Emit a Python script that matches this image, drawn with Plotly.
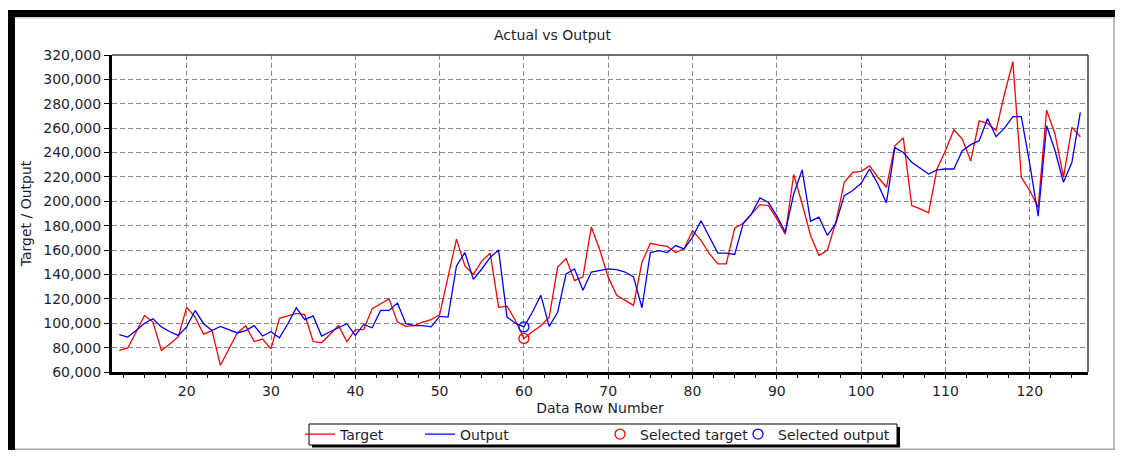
import plotly.graph_objects as go

# ---------------- data ----------------
rows = list(range(12, 127))

target = [
    77700, 79700, 92800, 106400, 101000, 77700, 83000, 89000, 113000, 105000,
    91000, 94000, 65500, 79000, 92000, 98000, 85000, 87000, 79000, 104000,
    106000, 108000, 107000, 85000, 84000, 91000, 98000, 85000, 94500, 95000,
    112000, 116000, 120000, 101000, 97400, 98000, 101000, 103000, 107000, 138000,
    169000, 147000, 140000, 151000, 157500, 113000, 114000, 102000, 87500, 93000,
    98000, 105000, 146000, 153000, 135000, 138000, 179000, 160000, 137800, 123000,
    118700, 114600, 150000, 165600, 164000, 163000, 158000, 161000, 176000, 168000,
    157000, 148700, 148700, 178000, 182000, 189700, 197300, 196500, 185600, 173000,
    222000, 198000, 172000, 155500, 160000, 183000, 215600, 223800, 224600, 229000,
    219700, 211500, 245600, 252000, 196500, 193800, 190500, 226500, 241500, 258700,
    251000, 233000, 266000, 264000, 258000, 288000, 314600, 219700, 208800, 195000,
    274800, 255000, 219700, 260600, 253000,
]

output = [
    90600, 88700, 94000, 100000, 103700, 97000, 93000, 90000, 97000, 110500,
    99600, 94000, 97400, 94700, 92000, 94000, 98000, 89500, 93000, 88000,
    99600, 112700, 103000, 106000, 89500, 93000, 96000, 99600, 90000, 99000,
    96300, 110500, 110500, 116500, 99600, 98000, 98000, 97000, 105600, 105000,
    147000, 158000, 136000, 144500, 154000, 160000, 105000, 100000, 97000, 109000,
    123000, 97400, 109000, 140500, 144500, 127000, 142000, 143500, 144600, 144000,
    142000, 138000, 112700, 158000, 159600, 158000, 163700, 161000, 170600, 184000,
    170600, 157500, 157500, 156400, 181500, 189700, 202800, 199000, 188000, 174700,
    206000, 225700, 183700, 187000, 172000, 182000, 204700, 208800, 214800, 226500,
    214000, 198700, 244000, 240000, 232000, 227000, 222400, 225700, 226500, 226500,
    241500, 246500, 249700, 268000, 253000, 260000, 269500, 269500, 230700, 187800,
    262000, 241500, 215600, 232000, 273000,
]

selected_rows = [60]
selected_target = [target[rows.index(r)] for r in selected_rows]
selected_output = [output[rows.index(r)] for r in selected_rows]

x_tickvals = [20, 30, 40, 50, 60, 70, 80, 90, 100, 110, 120]
y_tickvals = [60000, 80000, 100000, 120000, 140000, 160000, 180000, 200000,
              220000, 240000, 260000, 280000, 300000, 320000]

# ---------------- layout geometry (page pixels; page body has 8px margin) ----------------
OFF = 8
FIG_R, FIG_B = 1115, 450                          # figure right / bottom edge in page px
P_L, P_R, P_T, P_B = 112, 1088, 55, 372          # plot area in page px
W, H = FIG_R - OFF, FIG_B - OFF
ML, MR, MT, MB = P_L - OFF, FIG_R - P_R, P_T - OFF, FIG_B - P_B


def px(xp):
    return (xp - P_L) / (P_R - P_L)


def py(yp):
    return (P_B - yp) / (P_B - P_T)


FONT = "DejaVu Sans"
TXT = "#1e1e32"

fig = go.Figure()
fig.add_trace(go.Scatter(x=rows, y=target, mode="lines", name="Target",
                         line=dict(color="#ff0000", width=1.3), legend="legend"))
fig.add_trace(go.Scatter(x=rows, y=output, mode="lines", name="Output",
                         line=dict(color="#0000ff", width=1.3), legend="legend2"))
fig.add_trace(go.Scatter(x=selected_rows, y=selected_target, mode="markers",
                         name="Selected target", legend="legend3",
                         marker=dict(symbol="circle-open", size=10, color="#ff0000",
                                     line=dict(width=1.3, color="#ff0000"))))
fig.add_trace(go.Scatter(x=selected_rows, y=selected_output, mode="markers",
                         name="Selected output", legend="legend4",
                         marker=dict(symbol="circle-open", size=10, color="#0000ff",
                                     line=dict(width=1.3, color="#0000ff"))))

shapes = []
# outer window frame (the part that lies inside the figure)
shapes.append(dict(type="rect", xref="paper", yref="paper", x0=px(0), x1=px(15),
                   y0=py(10), y1=py(460), fillcolor="black", line=dict(width=0)))
shapes.append(dict(type="rect", xref="paper", yref="paper", x0=px(7), x1=px(1130),
                   y0=py(10), y1=py(17), fillcolor="black", line=dict(width=0)))
shapes.append(dict(type="line", xref="paper", yref="paper", x0=px(1114), x1=px(1114),
                   y0=py(17), y1=py(452), line=dict(color="#a8a8a8", width=1.5)))
shapes.append(dict(type="line", xref="paper", yref="paper", x0=px(15), x1=px(1121),
                   y0=py(449.2), y1=py(449.2), line=dict(color="#a8a8a8", width=1.5)))
shapes.append(dict(type="line", xref="paper", yref="paper", x0=px(15), x1=px(1120),
                   y0=py(17.8), y1=py(17.8), line=dict(color="#c0c0c0", width=1)))
# plot frame top / right
shapes.append(dict(type="line", xref="paper", yref="paper", x0=0, x1=1, y0=1, y1=1,
                   line=dict(color="#404040", width=1.5)))
shapes.append(dict(type="line", xref="paper", yref="paper", x0=1, x1=1, y0=0, y1=1,
                   line=dict(color="#404040", width=1.5)))
# legend box with shadow
shapes.append(dict(type="rect", xref="paper", yref="paper", x0=px(312), x1=px(900),
                   y0=py(427), y1=py(447.5), fillcolor="black", line=dict(width=0)))
shapes.append(dict(type="rect", xref="paper", yref="paper", x0=px(309), x1=px(897),
                   y0=py(424), y1=py(445), fillcolor="white",
                   line=dict(color="black", width=1)))


def leg(left_page_x):
    return dict(orientation="h", x=px(left_page_x), xanchor="left",
                y=py(434.5), yanchor="middle", bgcolor="rgba(0,0,0,0)",
                borderwidth=0, itemwidth=30,
                font=dict(family=FONT, size=14, color=TXT))


fig.update_layout(
    width=W, height=H,
    margin=dict(l=ML, r=MR, t=MT, b=MB, autoexpand=False),
    paper_bgcolor="white", plot_bgcolor="white",
    font=dict(family=FONT, size=14, color=TXT),
    showlegend=True,
    legend=leg(300), legend2=leg(420), legend3=leg(600), legend4=leg(738),
    shapes=shapes,
    annotations=[
        dict(text="Actual vs Output", xref="paper", yref="paper", x=px(552), y=py(35),
             xanchor="center", yanchor="middle", showarrow=False,
             font=dict(family=FONT, size=14, color=TXT)),
    ],
)

fig.update_xaxes(
    range=[11.14, 126.91], tickvals=x_tickvals, ticks="outside", ticklen=4,
    tickcolor="black", tickfont=dict(family=FONT, size=14, color=TXT),
    showgrid=True, gridcolor="#8a8a8a", gridwidth=1, griddash="5px,3px",
    showline=True, linecolor="black", linewidth=3, zeroline=False, automargin=False,
    minor=dict(tickmode="linear", tick0=0, dtick=2.5, ticks="outside", ticklen=3,
               tickcolor="black", showgrid=False),
    title=dict(text="Data Row Number", standoff=6,
               font=dict(family=FONT, size=14, color=TXT)),
)
fig.update_yaxes(
    range=[60000, 320000], tickvals=y_tickvals, tickformat=",", ticks="outside",
    ticklen=5, tickcolor="black", tickfont=dict(family=FONT, size=14, color=TXT),
    showgrid=True, gridcolor="#8a8a8a", gridwidth=1, griddash="5px,3px",
    showline=True, linecolor="black", linewidth=3, zeroline=False, automargin=False,
    title=dict(text="Target / Output", standoff=9,
               font=dict(family=FONT, size=14, color=TXT)),
)

fig.write_html("out.html")
